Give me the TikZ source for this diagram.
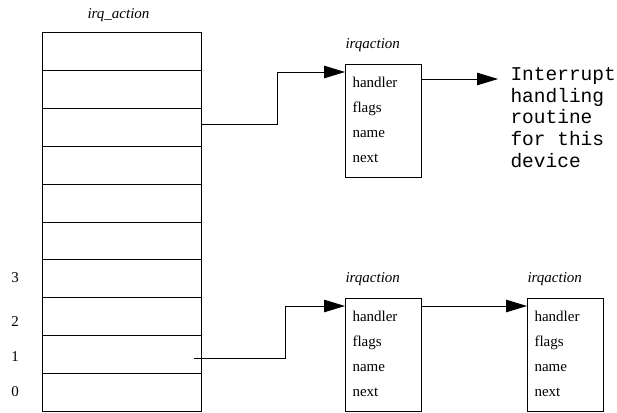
\documentclass[tikz,border=0pt]{standalone}
\usepackage{fontspec}
\setmainfont{Liberation Serif}
\setmonofont{Liberation Mono}
\usetikzlibrary{arrows.meta}
\begin{document}
\begin{tikzpicture}[x=1pt,y=-1pt, line width=1pt,
  rowbox/.style={draw, rectangle, minimum width=159pt, minimum height=37.8pt, inner sep=0pt, outer sep=0pt, anchor=north west},
  structbox/.style={draw, rectangle, minimum width=76pt, minimum height=113pt, inner sep=0pt, outer sep=0pt, anchor=north west},
  fieldtxt/.style={anchor=base west, inner sep=0pt, font=\fontsize{15}{18}\selectfont},
  titletxt/.style={anchor=base west, inner sep=0pt, font=\fontsize{15}{18}\selectfont\itshape},
  arr/.style={-{Triangle[length=21pt,width=12.5pt]}}]
\useasboundingbox (0,0) rectangle (617,412);
% array
\foreach \n [evaluate=\n as \yy using 33+37.8*(9-\n)] in {0,...,9}
  \node[rowbox] (r\n) at (42,\yy) {};
\node[titletxt] (arrtitle) at (87,18.3) {irq\_action};
\node[fieldtxt, anchor=base] (n3) at (15,282.3) {3};
\node[fieldtxt, anchor=base] (n2) at (15,326) {2};
\node[fieldtxt, anchor=base] (n1) at (15,361.7) {1};
\node[fieldtxt, anchor=base] (n0) at (15,396.7) {0};
% structures
\node[structbox] (s1) at (345,64) {};
\node[structbox] (s2) at (345,298) {};
\node[structbox] (s3) at (527,298) {};
\foreach \s in {s1,s2,s3}{
  \node[titletxt] (\s t) at ([yshift=15.7pt]\s.north west) {irqaction};
  \node[fieldtxt] (\s h) at ([xshift=7pt,yshift=-23pt]\s.north west) {handler};
  \node[fieldtxt] (\s f) at ([xshift=7pt,yshift=-48pt]\s.north west) {flags};
  \node[fieldtxt] (\s n) at ([xshift=7pt,yshift=-73pt]\s.north west) {name};
  \node[fieldtxt] (\s x) at ([xshift=7pt,yshift=-98pt]\s.north west) {next};
}
\node[anchor=north west, inner sep=0pt, align=left,
      font=\ttfamily\fontsize{19.5}{21.7}\selectfont] (intr) at (510,67)
  {Interrupt\\handling\\routine\\for this\\device};
% connectors
\draw[arr] ([yshift=3pt]r7.east) -- ++(76,0) |- ([yshift=-8pt]s1.north west);
\draw[arr] ([xshift=-7pt,yshift=-4pt]r1.east) -- ++(91,0) |- ([yshift=-8pt]s2.north west);
\draw[arr] ([yshift=-8pt]s2.north east) -- ([yshift=-8pt]s3.north west);
\draw[arr] ([yshift=-15pt]s1.north east) -- ([xshift=-12pt,yshift=-12pt]intr.north west);
\end{tikzpicture}
\end{document}
